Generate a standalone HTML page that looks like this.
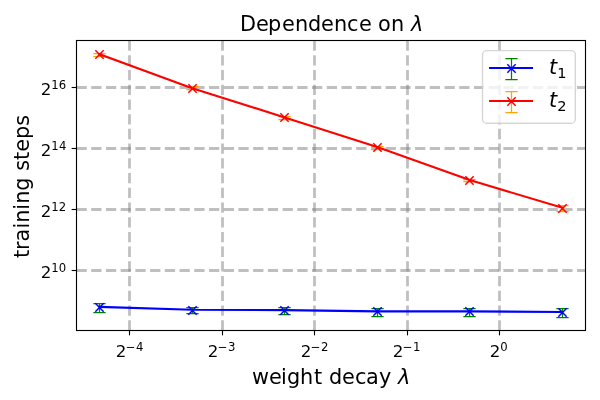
<!DOCTYPE html>
<html lang="en"><head><meta charset="utf-8"><title>Dependence on λ</title>
<style>html,body{margin:0;padding:0;background:#fff;overflow:hidden}svg{display:block}text{font-family:'DejaVu Sans', 'Liberation Sans', sans-serif;fill:#000}</style>
</head><body>
<svg width="600" height="400" viewBox="0 0 600 400">
<rect width="600" height="400" fill="#fff"/>
<defs><clipPath id="ax"><rect x="76.5" y="40.5" width="509" height="290"/></clipPath></defs>
<g clip-path="url(#ax)" fill="none" stroke="#808080" stroke-opacity="0.5" stroke-width="2.78" stroke-dasharray="10.28 4.44">
<path d="M129.5 330.5V40.5"/>
<path d="M222.5 330.5V40.5"/>
<path d="M314.5 330.5V40.5"/>
<path d="M407.5 330.5V40.5"/>
<path d="M499.5 330.5V40.5"/>
<path d="M76.5 270.5H585.5"/>
<path d="M76.5 209.5H585.5"/>
<path d="M76.5 148.5H585.5"/>
<path d="M76.5 87.5H585.5"/>
</g>
<g stroke="#000" stroke-width="1.11" fill="none">
<path d="M129.5 330.5v4.86"/>
<path d="M222.5 330.5v4.86"/>
<path d="M314.5 330.5v4.86"/>
<path d="M407.5 330.5v4.86"/>
<path d="M499.5 330.5v4.86"/>
<path d="M76.5 270.5h-4.86"/>
<path d="M76.5 209.5h-4.86"/>
<path d="M76.5 148.5h-4.86"/>
<path d="M76.5 87.5h-4.86"/>
</g>
<text><tspan x="115.80" y="356.60" font-size="16.667">2</tspan><tspan x="125.80" y="351.20" font-size="11.667">−</tspan><tspan x="136.10" y="351.20" font-size="11.667">4</tspan></text>
<text><tspan x="207.80" y="356.60" font-size="16.667">2</tspan><tspan x="217.80" y="351.20" font-size="11.667">−</tspan><tspan x="227.90" y="351.20" font-size="11.667">3</tspan></text>
<text><tspan x="300.80" y="356.60" font-size="16.667">2</tspan><tspan x="310.80" y="351.20" font-size="11.667">−</tspan><tspan x="320.90" y="351.20" font-size="11.667">2</tspan></text>
<text><tspan x="392.80" y="356.60" font-size="16.667">2</tspan><tspan x="402.80" y="351.20" font-size="11.667">−</tspan><tspan x="412.90" y="351.20" font-size="11.667">1</tspan></text>
<text><tspan x="489.80" y="356.60" font-size="16.667">2</tspan><tspan x="500.20" y="351.20" font-size="11.667">0</tspan></text>
<text><tspan x="40.75" y="277.80" font-size="16.667">2</tspan><tspan x="51.15" y="272.40" font-size="11.667">1</tspan><tspan x="58.85" y="272.40" font-size="11.667">0</tspan></text>
<text><tspan x="40.75" y="216.80" font-size="16.667">2</tspan><tspan x="51.15" y="211.40" font-size="11.667">1</tspan><tspan x="58.85" y="211.40" font-size="11.667">2</tspan></text>
<text><tspan x="40.75" y="155.80" font-size="16.667">2</tspan><tspan x="51.15" y="150.40" font-size="11.667">1</tspan><tspan x="58.95" y="150.40" font-size="11.667">4</tspan></text>
<text><tspan x="40.75" y="94.80" font-size="16.667">2</tspan><tspan x="51.15" y="89.40" font-size="11.667">1</tspan><tspan x="58.85" y="89.40" font-size="11.667">6</tspan></text>
<g clip-path="url(#ax)" stroke="#008000" stroke-width="1.25" fill="none">
<path d="M99.50 312.50V303.50"/>
<path d="M93.35 312.50h12.3 M93.35 303.50h12.3"/>
<path d="M192.50 313.50V307.50"/>
<path d="M186.35 313.50h12.3 M186.35 307.50h12.3"/>
<path d="M284.50 314.50V307.50"/>
<path d="M278.35 314.50h12.3 M278.35 307.50h12.3"/>
<path d="M377.50 316.50V308.50"/>
<path d="M371.35 316.50h12.3 M371.35 308.50h12.3"/>
<path d="M469.50 316.50V308.50"/>
<path d="M463.35 316.50h12.3 M463.35 308.50h12.3"/>
<path d="M562.50 317.50V308.50"/>
<path d="M556.35 317.50h12.3 M556.35 308.50h12.3"/>
</g>
<g clip-path="url(#ax)" stroke="#ffa500" stroke-width="1.25" fill="none">
<path d="M99.50 56.50V53.50"/>
<path d="M93.35 56.50h12.3 M93.35 53.50h12.3"/>
<path d="M192.50 89.50V86.50"/>
<path d="M186.35 89.50h12.3 M186.35 86.50h12.3"/>
<path d="M284.50 119.50V116.50"/>
<path d="M278.35 119.50h12.3 M278.35 116.50h12.3"/>
<path d="M377.50 149.50V146.50"/>
<path d="M371.35 149.50h12.3 M371.35 146.50h12.3"/>
<path d="M469.50 181.50V179.50"/>
<path d="M463.35 181.50h12.3 M463.35 179.50h12.3"/>
<path d="M562.50 211.50V205.50"/>
<path d="M556.35 211.50h12.3 M556.35 205.50h12.3"/>
</g>
<g clip-path="url(#ax)" stroke="#0000ff" fill="none">
<path d="M99.72 306.90 L192.22 309.75 L284.72 310.10 L377.22 311.40 L469.72 311.40 L562.22 312.00" stroke-width="2.083" stroke-linecap="square" stroke-linejoin="round"/>
<path d="M95.33 311.67L103.67 303.33M95.33 303.33L103.67 311.67" stroke-width="1.5"/>
<path d="M188.33 314.67L196.67 306.33M188.33 306.33L196.67 314.67" stroke-width="1.5"/>
<path d="M280.33 314.67L288.67 306.33M280.33 306.33L288.67 314.67" stroke-width="1.5"/>
<path d="M373.33 315.67L381.67 307.33M373.33 307.33L381.67 315.67" stroke-width="1.5"/>
<path d="M465.33 315.67L473.67 307.33M465.33 307.33L473.67 315.67" stroke-width="1.5"/>
<path d="M558.33 316.67L566.67 308.33M558.33 308.33L566.67 316.67" stroke-width="1.5"/>
</g>
<g clip-path="url(#ax)" stroke="#ff0000" fill="none">
<path d="M99.72 54.30 L192.22 88.20 L284.72 117.40 L377.22 147.10 L469.72 180.00 L562.22 207.80" stroke-width="2.083" stroke-linecap="square" stroke-linejoin="round"/>
<path d="M95.33 58.67L103.67 50.33M95.33 50.33L103.67 58.67" stroke-width="1.5"/>
<path d="M188.33 92.67L196.67 84.33M188.33 84.33L196.67 92.67" stroke-width="1.5"/>
<path d="M280.33 121.67L288.67 113.33M280.33 113.33L288.67 121.67" stroke-width="1.5"/>
<path d="M373.33 151.67L381.67 143.33M373.33 143.33L381.67 151.67" stroke-width="1.5"/>
<path d="M465.33 184.67L473.67 176.33M465.33 176.33L473.67 184.67" stroke-width="1.5"/>
<path d="M558.33 212.67L566.67 204.33M558.33 204.33L566.67 212.67" stroke-width="1.5"/>
</g>
<rect x="76.5" y="40.5" width="509" height="290" fill="none" stroke="#000" stroke-width="1.11"/>
<text y="30.5" font-size="20.833" style="white-space:pre"><tspan x="240.1 256.1 268.1 282.1 295.1 308.1 321.1 334.1 347.1 359.1 371.1 378.1 391.1 404.1">Dependence on </tspan><tspan x="411.1" font-style="oblique">λ</tspan></text>
<text y="383.7" font-size="20.833" style="white-space:pre"><tspan x="252 269 281 287 300 314 322 329 342 355 366 379 391">weight decay </tspan><tspan x="398" font-style="oblique">λ</tspan></text>
<text transform="translate(28.5 186.5) rotate(-90)" text-anchor="middle" font-size="20.833">training steps</text>
<rect x="482.5" y="50.6" width="92.8" height="72.7" rx="4.16667" ry="4.16667" fill="#fff" fill-opacity="0.8" stroke="#ccc" stroke-opacity="0.8" stroke-width="1.39"/>
<g fill="none" stroke="#008000" stroke-width="1.25"><path d="M511.5 58.5V79.5"/><path d="M505.35 58.5h12.3 M505.35 79.5h12.3"/></g>
<g fill="none" stroke="#0000ff"><path d="M490.1 68H532" stroke-width="2.083" stroke-linecap="square"/>
<path d="M507.33 72.67L515.67 64.33M507.33 64.33L515.67 72.67" stroke-width="1.5"/></g>
<text><tspan x="549.1" y="74.30" font-size="20.833" font-style="oblique">t</tspan><tspan x="557.27" y="77.90" font-size="14.583">1</tspan></text>
<g fill="none" stroke="#ffa500" stroke-width="1.25"><path d="M511.5 91.5V112.5"/><path d="M505.35 91.5h12.3 M505.35 112.5h12.3"/></g>
<g fill="none" stroke="#ff0000"><path d="M490.1 101H532" stroke-width="2.083" stroke-linecap="square"/>
<path d="M507.33 105.67L515.67 97.33M507.33 97.33L515.67 105.67" stroke-width="1.5"/></g>
<text><tspan x="549.1" y="107.30" font-size="20.833" font-style="oblique">t</tspan><tspan x="557.27" y="110.90" font-size="14.583">2</tspan></text>
</svg></body></html>
